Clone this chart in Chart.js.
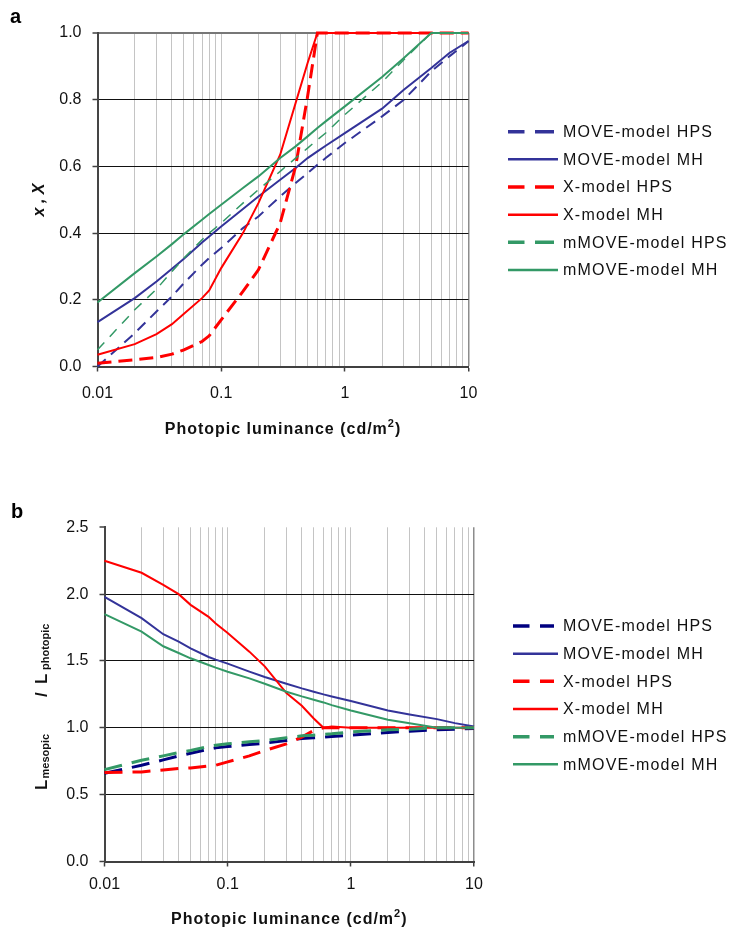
<!DOCTYPE html>
<html>
<head>
<meta charset="utf-8">
<script src="https://cdn.jsdelivr.net/npm/chart.js@4.4.1/dist/chart.umd.min.js"></script>
<style>
  html, body { margin: 0; padding: 0; background: #fff; }
  #wrap { position: relative; width: 729px; height: 934px; }
  .panel { position: absolute; left: 0; width: 729px; }
</style>
</head>
<body>
<div id="wrap">
  <div class="panel" style="top:0;height:460px"><canvas id="chartA" width="729" height="460"></canvas></div>
  <div class="panel" style="top:470px;height:464px"><canvas id="chartB" width="729" height="464"></canvas></div>
</div>
<script>
// photopic luminance (cd/m2) sample points, shared by every series
const LUM = [0.01, 0.02, 0.03, 0.04, 0.05, 0.07, 0.08, 0.1, 0.15, 0.2, 0.3, 0.4, 0.5, 0.6, 0.7, 1, 2, 3, 5, 7, 10];
const SERIES_NAMES = ['MOVE-model HPS', 'MOVE-model MH', 'X-model HPS', 'X-model MH', 'mMOVE-model HPS', 'mMOVE-model MH'];

// panel a: x , X
const A_MOVE_HPS  = [0.00, 0.10, 0.165, 0.21, 0.25, 0.305, 0.325, 0.355, 0.415, 0.45, 0.51, 0.55, 0.58, 0.605, 0.625, 0.67, 0.75, 0.80, 0.885, 0.93, 0.975];
const A_MOVE_MH   = [0.133, 0.205, 0.255, 0.293, 0.323, 0.372, 0.39, 0.42, 0.472, 0.51, 0.56, 0.595, 0.625, 0.645, 0.662, 0.70, 0.773, 0.83, 0.895, 0.94, 0.976];
const A_X_HPS     = [0.01, 0.02, 0.027, 0.037, 0.05, 0.075, 0.092, 0.14, 0.225, 0.29, 0.43, 0.60, 0.81, 1.0, 1.0, 1.0, 1.0, 1.0, 1.0, 1.0, 1.0];
const A_X_MH      = [0.035, 0.067, 0.097, 0.127, 0.158, 0.205, 0.228, 0.295, 0.40, 0.49, 0.635, 0.79, 0.91, 1.0, 1.0, 1.0, 1.0, 1.0, 1.0, 1.0, 1.0];
const A_MMOVE_HPS = [0.05, 0.17, 0.232, 0.285, 0.325, 0.38, 0.40, 0.43, 0.49, 0.53, 0.585, 0.625, 0.655, 0.68, 0.70, 0.755, 0.853, 0.92, 1.0, 1.0, 1.0];
const A_MMOVE_MH  = [0.192, 0.28, 0.33, 0.367, 0.397, 0.44, 0.457, 0.485, 0.535, 0.57, 0.625, 0.66, 0.69, 0.715, 0.735, 0.78, 0.868, 0.925, 1.0, 1.0, 1.0];

// panel b: Lmesopic / Lphotopic
const B_MOVE_HPS  = [0.66, 0.72, 0.76, 0.79, 0.81, 0.84, 0.85, 0.86, 0.875, 0.885, 0.905, 0.92, 0.925, 0.93, 0.935, 0.945, 0.965, 0.975, 0.985, 0.99, 0.995];
const B_MOVE_MH   = [1.98, 1.82, 1.70, 1.645, 1.595, 1.53, 1.51, 1.48, 1.42, 1.38, 1.33, 1.295, 1.27, 1.25, 1.235, 1.20, 1.13, 1.10, 1.065, 1.035, 1.01];
const B_X_HPS     = [0.665, 0.67, 0.685, 0.695, 0.70, 0.715, 0.72, 0.745, 0.79, 0.83, 0.88, 0.93, 0.98, 1.0, 1.0, 1.0, 1.0, 1.0, 1.0, 1.0, 1.0];
const B_X_MH      = [2.25, 2.16, 2.07, 2.0, 1.92, 1.83, 1.78, 1.71, 1.57, 1.46, 1.26, 1.165, 1.07, 1.0, 1.01, 1.0, 1.0, 1.0, 1.0, 1.0, 1.0];
const B_MMOVE_HPS = [0.687, 0.757, 0.79, 0.815, 0.83, 0.86, 0.87, 0.88, 0.895, 0.905, 0.925, 0.94, 0.945, 0.95, 0.955, 0.97, 0.985, 0.99, 1.0, 1.0, 1.0];
const B_MMOVE_MH  = [1.85, 1.72, 1.61, 1.56, 1.52, 1.47, 1.45, 1.42, 1.37, 1.33, 1.27, 1.235, 1.21, 1.19, 1.17, 1.13, 1.06, 1.035, 1.0, 1.0, 1.0];

const FONT = "'Liberation Sans', Arial, Helvetica, sans-serif";
const BLUE = '#333399', NAVY = '#000080', RED = '#ff0000', GREEN = '#339966';

const pts = vals => LUM.map((x, i) => ({ x: x, y: vals[i] }));
const isDecade = v => Math.abs(Math.log10(v) - Math.round(Math.log10(v))) < 1e-6;

function series(label, vals, color, width, dash, order) {
  return {
    label: label, data: pts(vals), borderColor: color, backgroundColor: color,
    borderWidth: width, borderDash: dash || [], pointRadius: 0, tension: 0,
    fill: false, clip: 6, order: order, isDashed: !!dash
  };
}

function xAxis(axisH, labelPad) {
  return {
    type: 'logarithmic', min: 0.01, max: 10, position: 'bottom',
    afterFit: s => { s.height = axisH; },
    afterBuildTicks: s => {
      const t = [];
      for (let e = -2; e < 1; e++) for (let m = 1; m < 10; m++) t.push({ value: m * Math.pow(10, e) });
      t.push({ value: 10 });
      s.ticks = t;
    },
    ticks: {
      autoSkip: false, maxRotation: 0, padding: labelPad, color: '#111',
      font: { family: FONT, size: 16 },
      callback: v => isDecade(v) ? String(+v.toPrecision(1)) : ''
    },
    grid: {
      color: c => c.tick && Math.abs(c.tick.value - 10) < 1e-6 ? '#8c8c8c' : '#c4c4c4',
      lineWidth: c => c.tick && Math.abs(c.tick.value - 10) < 1e-6 ? 1.5 : 1,
      tickLength: 5, tickWidth: 1.5,
      tickColor: c => c.tick && isDecade(c.tick.value) ? '#404040' : 'rgba(0,0,0,0)'
    },
    border: { color: '#404040', width: 2 }
  };
}

function yAxis(axisW, max, step, topLine) {
  return {
    type: 'linear', min: 0, max: max, position: 'left',
    afterFit: s => { s.width = axisW; },
    ticks: { stepSize: step, padding: 11, color: '#111', font: { family: FONT, size: 16 }, callback: v => v.toFixed(1) },
    grid: {
      color: c => (c.tick && Math.abs(c.tick.value - max) < 1e-6) ? (topLine ? '#777777' : 'rgba(0,0,0,0)') : '#111111',
      lineWidth: c => (c.tick && Math.abs(c.tick.value - max) < 1e-6) ? 2 : 1,
      tickLength: 5, tickWidth: 1.5, tickColor: '#404040'
    },
    border: { color: '#454545', width: 2 }
  };
}

function drawXTitle(ctx, cx, baseY) {
  const main = 'Photopic luminance (cd/m', sup = '2', tail = ')';
  ctx.font = 'bold 16px ' + FONT;
  if ('letterSpacing' in ctx) ctx.letterSpacing = '1px';
  const w1 = ctx.measureText(main).width, w3 = ctx.measureText(tail).width;
  ctx.font = 'bold 11px ' + FONT;
  const w2 = ctx.measureText(sup).width;
  let x = cx - (w1 + w2 + w3) / 2;
  ctx.textAlign = 'left'; ctx.textBaseline = 'alphabetic';
  ctx.font = 'bold 16px ' + FONT; ctx.fillText(main, x, baseY); x += w1;
  ctx.font = 'bold 11px ' + FONT; ctx.fillText(sup, x, baseY - 7); x += w2;
  ctx.font = 'bold 16px ' + FONT; ctx.fillText(tail, x, baseY);
  if ('letterSpacing' in ctx) ctx.letterSpacing = '0px';
}

function drawLegend(ctx, chart, y0, x0, x1, textX) {
  const step = 27.66;
  chart.data.datasets.forEach((ds, i) => {
    const y = y0 + i * step;
    ctx.strokeStyle = ds.borderColor;
    ctx.setLineDash([]);
    ctx.lineCap = 'butt';
    ctx.beginPath();
    if (ds.isDashed) {
      ctx.lineWidth = 3.5;
      ctx.moveTo(x0, y); ctx.lineTo(x0 + 16.5, y);
      ctx.moveTo(x0 + 27, y); ctx.lineTo(x1 - 4, y);
    } else {
      ctx.lineWidth = 2.5;
      ctx.moveTo(x0, y); ctx.lineTo(x1, y);
    }
    ctx.stroke();
    ctx.fillStyle = '#111';
    ctx.font = '16px ' + FONT;
    if ('letterSpacing' in ctx) ctx.letterSpacing = '1.2px';
    ctx.textAlign = 'left'; ctx.textBaseline = 'middle';
    ctx.fillText(ds.label, textX, y + 1);
    if ('letterSpacing' in ctx) ctx.letterSpacing = '0px';
  });
}

const decor = {
  id: 'decor',
  afterDraw(chart, args, o) {
    const ctx = chart.ctx, a = chart.chartArea;
    ctx.save();
    ctx.fillStyle = '#000';
    ctx.font = 'bold 20px ' + FONT;
    ctx.textAlign = 'left'; ctx.textBaseline = 'alphabetic';
    ctx.fillText(o.letter, o.letterX, o.letterY);
    ctx.fillStyle = '#111';
    drawXTitle(ctx, (a.left + a.right) / 2, o.xTitleY);
    o.yTitle(ctx);
    drawLegend(ctx, chart, o.legendY, o.legendX0, o.legendX1, o.legendTextX);
    ctx.restore();
  }
};

function yTitleA(ctx) {
  ctx.save();
  ctx.translate(40, 200);
  ctx.rotate(-Math.PI / 2);
  ctx.font = 'italic bold 16px ' + FONT;
  ctx.textAlign = 'center'; ctx.textBaseline = 'middle';
  ctx.fillText('x , X', 0, 0);
  ctx.restore();
}

function yTitleB(ctx) {
  // pieces placed along the rotated axis (start = distance from the bottom anchor)
  const parts = [
    ['L', 'bold 17px ', 0, 0],
    ['mesopic', 'bold 11px ', 11.5, 2],
    ['/', 'bold 17px ', 93, 0],
    ['L', 'bold 17px ', 106, 0],
    ['photopic', 'bold 11px ', 120, 2]
  ];
  ctx.save();
  ctx.translate(47, 320);
  ctx.rotate(-Math.PI / 2);
  ctx.textAlign = 'left'; ctx.textBaseline = 'alphabetic';
  parts.forEach(p => { ctx.font = p[1] + FONT; ctx.fillText(p[0], p[2], p[3]); });
  ctx.restore();
}

function makeChart(id, sets, yMax, yStep, topLine, want, deco) {
  const chart = new Chart(document.getElementById(id), {
    type: 'line',
    data: { datasets: sets },
    options: {
      responsive: false, animation: false, devicePixelRatio: 1,
      layout: { padding: { left: 0, top: want.top, right: want.canvasW - want.right, bottom: 0 } },
      plugins: { legend: { display: false }, tooltip: { enabled: false }, decor: deco },
      scales: { x: xAxis(want.canvasH - want.bottom, want.labelPad), y: yAxis(want.left, yMax, yStep, topLine) }
    },
    plugins: [decor]
  });
  // nudge padding so the plot area lands where the reference has it
  const a = chart.chartArea, p = chart.options.layout.padding;
  const dTop = want.top - a.top, dRight = a.right - want.right;
  if (Math.abs(dTop) > 0.2 || Math.abs(dRight) > 0.2) {
    p.top += dTop; p.right += dRight;
    chart.update('none');
  }
  return chart;
}

const setsA = [
  series(SERIES_NAMES[0], A_MOVE_HPS, BLUE, 2, [11, 7], 5),
  series(SERIES_NAMES[1], A_MOVE_MH, BLUE, 2, null, 4),
  series(SERIES_NAMES[2], A_X_HPS, RED, 3, [14, 7], 3),
  series(SERIES_NAMES[3], A_X_MH, RED, 2, null, 2),
  series(SERIES_NAMES[4], A_MMOVE_HPS, GREEN, 1.5, [10, 8], 1),
  series(SERIES_NAMES[5], A_MMOVE_MH, GREEN, 2, null, 0)
];

const setsB = [
  series(SERIES_NAMES[0], B_MOVE_HPS, NAVY, 3, [18, 10], 5),
  series(SERIES_NAMES[1], B_MOVE_MH, BLUE, 2, null, 4),
  series(SERIES_NAMES[2], B_X_HPS, RED, 3, [18, 10], 3),
  series(SERIES_NAMES[3], B_X_MH, RED, 2, null, 2),
  series(SERIES_NAMES[4], B_MMOVE_HPS, GREEN, 3, [18, 10], 1),
  series(SERIES_NAMES[5], B_MMOVE_MH, GREEN, 2, null, 0)
];

makeChart('chartA', setsA, 1, 0.2, true,
  { left: 97.5, top: 33, right: 468.5, bottom: 366.5, canvasW: 729, canvasH: 460, labelPad: 12 },
  { letter: 'a', letterX: 10, letterY: 23, xTitleY: 434, yTitle: yTitleA,
    legendY: 131.7, legendX0: 508, legendX1: 558, legendTextX: 563 });

makeChart('chartB', setsB, 2.5, 0.5, false,
  { left: 104.5, top: 57.3, right: 474, bottom: 391.5, canvasW: 729, canvasH: 464, labelPad: 8 },
  { letter: 'b', letterX: 11, letterY: 48, xTitleY: 454, yTitle: yTitleB,
    legendY: 156, legendX0: 513, legendX1: 558, legendTextX: 563 });
</script>
</body>
</html>
